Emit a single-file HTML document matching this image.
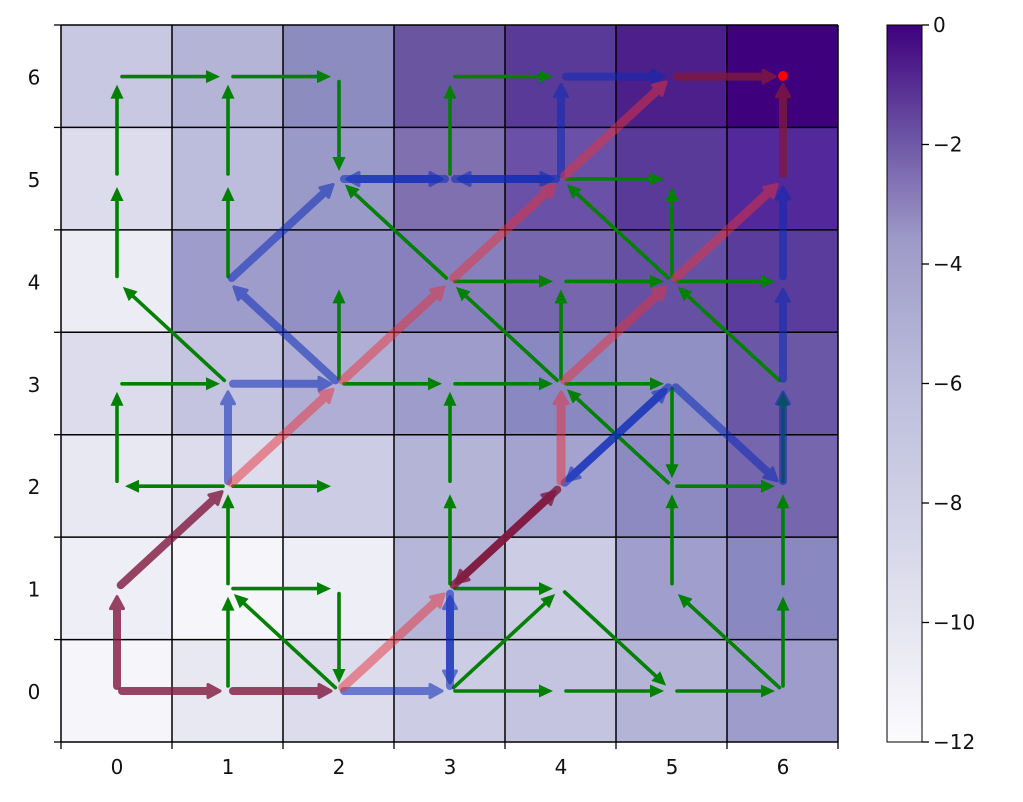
<!DOCTYPE html>
<html><head><meta charset="utf-8"><style>
body{margin:0;background:#fff;}
svg text{font-family:"DejaVu Sans","Liberation Sans",sans-serif;font-size:20px;fill:#111;}
</style></head><body>
<svg id="s" width="1023" height="797" xmlns="http://www.w3.org/2000/svg">
<defs>
<linearGradient id="cb" x1="0" y1="1" x2="0" y2="0">
<stop offset="0" stop-color="#fcfbfd"/><stop offset="0.25" stop-color="#dadaeb"/>
<stop offset="0.5" stop-color="#bcbddc"/><stop offset="0.7" stop-color="#9e9ac8"/>
<stop offset="0.85" stop-color="#6a51a3"/><stop offset="1" stop-color="#3f007d"/>
</linearGradient>
</defs>
<g id="cells"></g>
<g id="grid"></g>
<g id="arr"></g>
<circle cx="783" cy="76" r="5" fill="red"/>
<rect x="887" y="25" width="35" height="717" fill="url(#cb)" stroke="#000" stroke-width="1"/>
<g id="axes"></g>
</svg>
<script>
const NS="http://www.w3.org/2000/svg";
const X0=61,CW=111,Y0=25,RH=717/7;
function cx(i){return 117+111*i}
function cy(j){return 691-102.4*j}
const cols=[
["#f6f6fa","#e8e8f2","#dcdcec","#ccccE4","#c4c4e0","#b4b4d6","#9e9ccb"],
["#eeeef6","#f6f6fa","#eeeef6","#b6b6d8","#ccccE4","#a09ecc","#8a88c0"],
["#e8e8f2","#dcdcec","#ccccE4","#b4b4d6","#a4a2cf","#8c8ac0","#7666ae"],
["#dcdcec","#c4c4e0","#b0aed4","#9e9ccb","#8a88c0","#9090c4","#6a58a6"],
["#ececf4","#9e9ccb","#9290c4","#8880bc","#7666ae","#6650a4","#5a3c9c"],
["#dcdcec","#bcbcdc","#9a9ac8","#8070b0","#6a50a6","#5a3a98","#52289a"],
["#c8c8e2","#b4b4d6","#8c8cc0","#6a55a0","#5a3a98","#4c1f8a","#3f007d"]];
function el(n,a,p){const e=document.createElementNS(NS,n);for(const k in a)e.setAttribute(k,a[k]);if(p)p.appendChild(e);return e;}
const cells=document.getElementById('cells'),grid=document.getElementById('grid'),arr=document.getElementById('arr'),axes=document.getElementById('axes');
for(let j=0;j<7;j++)for(let i=0;i<7;i++)el('rect',{x:X0+CW*i,y:Y0+RH*(6-j),width:CW+0.5,height:RH+0.5,fill:cols[j][i]},cells);
for(let k=0;k<=7;k++){el('line',{x1:X0+CW*k,y1:Y0,x2:X0+CW*k,y2:742,stroke:'#000','stroke-width':1.5},grid);
el('line',{x1:X0,y1:Y0+RH*k,x2:838,y2:Y0+RH*k,stroke:'#000','stroke-width':1.5},grid);}
function arrow(a,b,c,d,color,w,op,hl,hw){
 let x1=cx(a),y1=cy(b),x2=cx(c),y2=cy(d);let dx=x2-x1,dy=y2-y1,L=Math.hypot(dx,dy);let ux=dx/L,uy=dy/L;
 let sx=x1+ux*5,sy=y1+uy*5,ex=x2-ux*8,ey=y2-uy*8;let bx=ex-ux*hl,by=ey-uy*hl;
 const g=el('g',{opacity:op},arr);
 el('line',{x1:sx,y1:sy,x2:bx+ux*2,y2:by+uy*2,stroke:color,'stroke-width':w,'stroke-linecap':'round'},g);
 el('polygon',{points:`${ex},${ey} ${bx-uy*hw},${by+ux*hw} ${bx+uy*hw},${by-ux*hw}`,fill:color,stroke:color,'stroke-width':w>4?3:0,'stroke-linejoin':'round'},g);
}
const green=[[1,0,1,1],[2,0,1,1],[2,1,2,0],[3,0,4,1],[3,0,4,0],[4,0,5,0],[4,1,5,0],[5,0,6,0],[6,0,5,1],[6,0,6,1],[5,1,5,2],[6,1,6,2],
[3,1,3,2],[3,2,3,3],[3,1,4,1],[1,1,2,1],[1,1,1,2],[1,2,0,2],[1,2,2,2],[0,2,0,3],[0,3,1,3],[1,3,0,4],[0,4,0,5],[0,5,0,6],[0,6,1,6],[1,6,2,6],
[1,4,1,5],[1,5,1,6],[2,6,2,5],[2,3,2,4],[2,3,3,3],[3,3,4,3],[4,3,5,3],[4,3,3,4],[4,3,4,4],[3,4,2,5],[3,4,4,4],[4,4,5,4],[5,4,4,5],[5,4,5,5],
[5,4,6,4],[4,5,5,5],[3,5,3,6],[3,6,4,6],[6,3,5,4],[5,2,4,3],[5,3,5,2],[5,2,6,2],[6,2,6,3]];
green.forEach(a=>arrow(...a,'#008000',3.6,1,14,6.5));
const blue=[[2,0,3,0],[3,0,3,1],[3,1,3,0],[1,2,1,3],[1,3,2,3],[2,3,1,4],[1,4,2,5],[3,5,2,5],[2,5,3,5],[4,5,3,5],[3,5,4,5],[4,5,4,6],[4,6,5,6],
[4,2,5,3],[5,3,4,2],[5,3,6,2],[6,2,6,3],[6,3,6,4],[6,4,6,5]];
blue.forEach(a=>arrow(...a,'#0b2ab8',8,0.55,12,6.5));
const maroon=[[0,0,0,1],[0,0,1,0],[1,0,2,0],[0,1,1,2],[5,6,6,6],[6,5,6,6],[3,1,4,2],[4,2,3,1]];
maroon.forEach(a=>arrow(...a,'#80183f',8,0.8,12,6.5));
const red=[[1,2,2,3],[2,0,3,1],[2,3,3,4],[3,4,4,5],[4,5,5,6],[5,4,6,5],[4,3,5,4],[4,2,4,3]];
red.forEach(a=>arrow(...a,'#e8323c',9,0.5,12,7));
for(let k=0;k<=7;k++){el('line',{x1:X0+CW*k,y1:742,x2:X0+CW*k,y2:749,stroke:'#000','stroke-width':1.3},axes);
 el('line',{x1:54,y1:Y0+RH*k,x2:61,y2:Y0+RH*k,stroke:'#000','stroke-width':1.3},axes);}
for(let i=0;i<7;i++){const t=el('text',{x:cx(i),y:774,'text-anchor':'middle'},axes);t.textContent=i;
 const u=el('text',{x:34,y:cy(i)+8,'text-anchor':'middle'},axes);u.textContent=i;}
for(let k=0;k<=6;k++){const y=25+717*k/6;el('line',{x1:922,y1:y,x2:929,y2:y,stroke:'#000','stroke-width':1.3},axes);
 const t=el('text',{x:933,y:y+7},axes);t.textContent=k==0?'0':'\u2212'+(2*k);}
</script>
</body></html>
